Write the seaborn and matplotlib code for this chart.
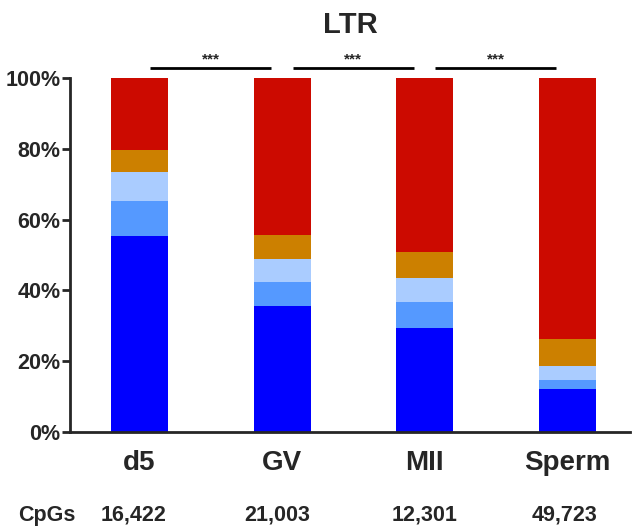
import matplotlib
matplotlib.use("Agg")
import matplotlib.pyplot as plt
import seaborn as sns
import numpy as np
import pandas as pd
from matplotlib.transforms import blended_transform_factory, offset_copy

stages = ["d5", "GV", "MII", "Sperm"]
cpgs = ["16,422", "21,003", "12,301", "49,723"]
# segment percentages, bottom to top
level_1 = [55.4, 35.6, 29.5, 12.2]
level_2 = [9.8, 6.7, 7.2, 2.4]
level_3 = [8.1, 6.6, 6.8, 4.1]
level_4 = [6.4, 6.7, 7.3, 7.6]
level_5 = [20.3, 44.4, 49.2, 73.7]
layers = [level_1, level_2, level_3, level_4, level_5]
colors = ["#0000FF", "#5599FF", "#AACCFF", "#CC8000", "#CC0A00"]
y_ticks = [0, 20, 40, 60, 80, 100]
sig_labels = ["***", "***", "***"]

sns.set_style("ticks")
plt.rcParams["font.family"] = ["Liberation Sans", "DejaVu Sans"]

fig = plt.figure(figsize=(6.33, 5.29), dpi=100)
ax = fig.add_axes([0.1106, 0.1834, 0.8844, 0.6692])

cum = np.cumsum(np.array(layers), axis=0)
# draw from top layer down so lower layers overlay
for i in range(len(layers) - 1, -1, -1):
    df = pd.DataFrame({"stage": stages, "val": cum[i]})
    sns.barplot(data=df, x="stage", y="val", color=colors[i], width=0.4,
                saturation=1, ax=ax, linewidth=0, order=stages)

ax.set_xlim(-0.488, 3.44)
ax.set_ylim(0, 100)
ax.set_yticks(y_ticks)
ax.set_yticklabels([f"{t}%" for t in y_ticks], fontsize=15.5, fontweight="bold")
ax.set_xlabel("")
ax.set_ylabel("")
ax.tick_params(axis="x", length=0, pad=13, labelsize=20)
for lab in ax.get_xticklabels():
    lab.set_fontweight("bold")
ax.tick_params(axis="y", length=6, width=2, pad=0.8)
for s in ["top", "right"]:
    ax.spines[s].set_visible(False)
for s in ["left", "bottom"]:
    ax.spines[s].set_linewidth(2)

# significance bars
for i, lab in enumerate(sig_labels):
    ax.plot([i + 0.075, i + 0.925], [102.7, 102.7], color="black", lw=2,
            clip_on=False, solid_capstyle="butt")
    ax.text(i + 0.5, 103.2, lab, ha="center", va="bottom", fontsize=11,
            fontweight="bold", clip_on=False)

# CpGs row
trans = blended_transform_factory(ax.transData, fig.transFigure)
shifts = [-6, -5, 0, -3]
for i, c in enumerate(cpgs):
    t = offset_copy(trans, fig=fig, x=shifts[i], y=0, units="dots")
    ax.text(i, 0.026, c, transform=t, ha="center", va="center",
            fontsize=15.5, fontweight="bold")
fig.text(18 / 633, 0.026, "CpGs", ha="left", va="center", fontsize=15.5,
         fontweight="bold")

fig.text(350 / 633, 1 - 25 / 529, "LTR", ha="center", va="center",
         fontsize=21, fontweight="bold")

fig.savefig("out.png", dpi=100)
